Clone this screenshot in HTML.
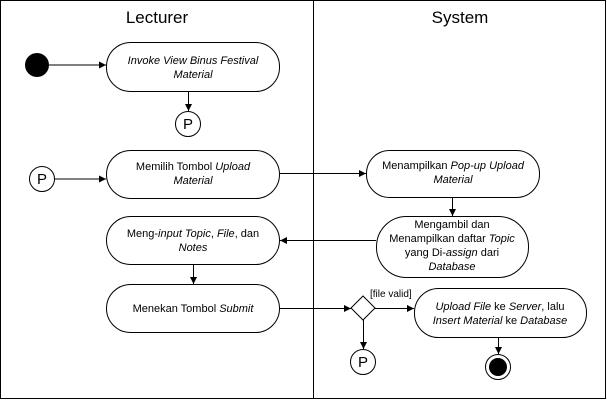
<!DOCTYPE html>
<html><head><meta charset="utf-8"><style>
html,body{margin:0;padding:0;background:#fff;}
svg{display:block;font-family:"Liberation Sans",sans-serif;}
text{font-size:11px;fill:#000;}
.i{font-style:italic;}
</style></head><body>
<svg width="607" height="400" viewBox="0 0 607 400" xmlns="http://www.w3.org/2000/svg">
<defs><marker id="a" markerWidth="8" markerHeight="8" refX="7" refY="4" orient="auto" markerUnits="userSpaceOnUse"><path d="M0,0.5 L7,4 L0,7.5 z" fill="#000"/></marker></defs>
<rect x="0.5" y="0.5" width="605" height="398" fill="#fff" stroke="#000"/>
<line x1="313.5" y1="0" x2="313.5" y2="399" stroke="#000"/>
<text x="157" y="23" text-anchor="middle" style="font-size:17px">Lecturer</text>
<text x="460" y="23" text-anchor="middle" style="font-size:17px">System</text>
<g fill="#fff" stroke="#000">
<rect x="106.5" y="42.5" width="173" height="49" rx="24"/>
<rect x="106.5" y="150.5" width="173" height="48" rx="24"/>
<rect x="106.5" y="216.5" width="173" height="48" rx="24"/>
<rect x="106.5" y="284.5" width="173" height="48" rx="24"/>
<rect x="366.5" y="150.5" width="173" height="47" rx="23"/>
<rect x="376.5" y="216.5" width="152" height="61" rx="30"/>
<rect x="414.5" y="288.5" width="172" height="49" rx="24"/>
<circle cx="188" cy="124" r="12.5"/>
<circle cx="42" cy="179" r="12.5"/>
<circle cx="363" cy="362" r="12.5"/>
<circle cx="498" cy="367" r="12.5"/>
<path d="M363,296 L375,308 L363,320 L351,308 z"/>
</g>
<circle cx="37" cy="65" r="12" fill="#000"/>
<circle cx="498" cy="367" r="9" fill="#000"/>
<g stroke="#000" fill="none" marker-end="url(#a)">
<line x1="49" y1="65" x2="106" y2="65"/>
<line x1="188.5" y1="92" x2="188.5" y2="111"/>
<line x1="55" y1="179" x2="106" y2="179"/>
<line x1="280" y1="173.5" x2="366" y2="173.5"/>
<line x1="452.5" y1="198" x2="452.5" y2="216"/>
<line x1="376" y1="240.5" x2="280" y2="240.5"/>
<line x1="193.5" y1="265" x2="193.5" y2="284"/>
<line x1="280" y1="308.5" x2="351" y2="308.5"/>
<line x1="375" y1="308.5" x2="414" y2="308.5"/>
<line x1="363.5" y1="320" x2="363.5" y2="349"/>
<line x1="498.5" y1="338" x2="498.5" y2="354"/>
</g>
<text x="188" y="129" text-anchor="middle" style="font-size:15px">P</text>
<text x="42" y="184" text-anchor="middle" style="font-size:15px">P</text>
<text x="363" y="367" text-anchor="middle" style="font-size:15px">P</text>
<text x="193" y="64" text-anchor="middle" class="i">Invoke View Binus Festival</text>
<text x="193" y="78" text-anchor="middle" class="i">Material</text>
<text x="193" y="170" text-anchor="middle">Memilih Tombol <tspan class="i">Upload</tspan></text>
<text x="193" y="184" text-anchor="middle" class="i">Material</text>
<text x="193" y="237" text-anchor="middle">Meng-<tspan class="i">input Topic</tspan>, <tspan class="i">File</tspan>, dan</text>
<text x="193" y="251" text-anchor="middle" class="i">Notes</text>
<text x="193" y="312" text-anchor="middle">Menekan Tombol <tspan class="i">Submit</tspan></text>
<text x="453" y="169" text-anchor="middle">Menampilkan <tspan class="i">Pop-up Upload</tspan></text>
<text x="453" y="183" text-anchor="middle" class="i">Material</text>
<text x="452" y="228" text-anchor="middle">Mengambil dan</text>
<text x="452" y="242" text-anchor="middle">Menampilkan daftar <tspan class="i">Topic</tspan></text>
<text x="452" y="256" text-anchor="middle">yang Di-<tspan class="i">assign</tspan> dari</text>
<text x="452" y="270" text-anchor="middle" class="i">Database</text>
<text x="370" y="297" style="font-size:10px">[file valid]</text>
<text x="500" y="310" text-anchor="middle"><tspan class="i">Upload File</tspan> ke <tspan class="i">Server</tspan>, lalu</text>
<text x="500" y="324" text-anchor="middle"><tspan class="i">Insert Material</tspan> ke <tspan class="i">Database</tspan></text>
</svg>
</body></html>
